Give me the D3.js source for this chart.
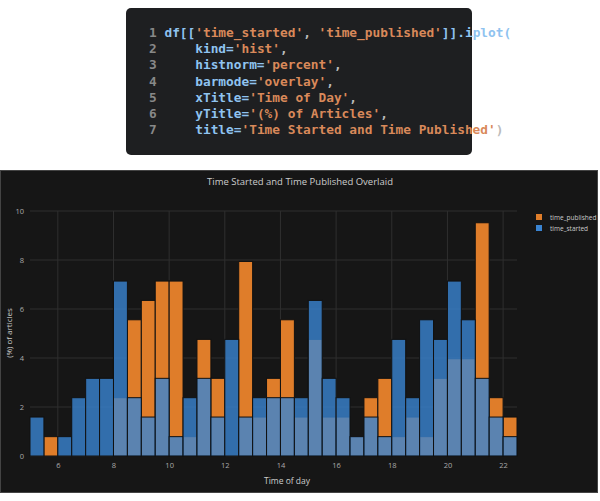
<!DOCTYPE html><html><head><meta charset="utf-8">
<script src="https://cdn.jsdelivr.net/npm/d3@7"></script>
<style>body{margin:0;background:#fff}svg{display:block}</style></head><body>
<svg id="c" width="600" height="501"></svg>
<script>
const binStarts=[5,5.5,6,6.5,7,7.5,8,8.5,9,9.5,10,10.5,11,11.5,12,12.5,13,13.5,14,14.5,15,15.5,16,16.5,17,17.5,18,18.5,19,19.5,20,20.5,21,21.5,22];
const timeStarted=[1.59,0,0.79,2.38,3.17,3.17,7.14,2.38,1.59,3.17,0.79,2.38,3.17,1.59,4.76,1.59,2.38,2.38,2.38,2.38,6.35,3.17,2.38,0.79,1.59,0.79,4.76,2.38,5.56,4.76,7.14,5.56,3.17,1.59,0.79];
const timePublished=[0,0.79,0,0,0,0,2.38,5.56,6.35,7.14,7.14,0.79,4.76,3.17,0,7.94,1.59,3.17,5.56,1.59,4.76,1.59,1.59,0.79,2.38,3.17,0.79,1.59,0.79,3.17,3.97,3.97,9.52,2.38,1.59];
const xTicks=[6,8,10,12,14,16,18,20,22];
const yTicks=[0,2,4,6,8,10];
const codeLines=[
 [["df[[","#8fc3f0"],["'time_started'","#d9895a"],[", ","#bbb"],["'time_published'","#d9895a"],["]].iplot(","#8fc3f0"]],
 [["    kind=","#8fc3f0"],["'hist'","#d9895a"],[",","#bbb"]],
 [["    histnorm=","#8fc3f0"],["'percent'","#d9895a"],[",","#bbb"]],
 [["    barmode=","#8fc3f0"],["'overlay'","#d9895a"],[",","#bbb"]],
 [["    xTitle=","#8fc3f0"],["'Time of Day'","#d9895a"],[",","#bbb"]],
 [["    yTitle=","#8fc3f0"],["'(%) of Articles'","#d9895a"],[",","#bbb"]],
 [["    title=","#8fc3f0"],["'Time Started and Time Published'","#d9895a"],[")","#bbb"]]
];
const svg=d3.select("#c");
// code block
svg.append("rect").attr("x",126).attr("y",8).attr("width",346).attr("height",147).attr("rx",5).attr("fill","#1e1f21");
codeLines.forEach((ln,i)=>{
 const t=svg.append("text").attr("x",149).attr("y",37+i*16.2).attr("font-family","DejaVu Sans Mono").attr("font-size",12.8).attr("font-weight","bold").attr("xml:space","preserve");
 t.append("tspan").attr("fill","#888").text((i+1)+" ");
 ln.forEach(([s,c])=>t.append("tspan").attr("fill",c).text(s));
});
// chart panel
svg.append("rect").attr("x",0.5).attr("y",170.5).attr("width",597).attr("height",322).attr("fill","#161616").attr("stroke","#444");
const x=d3.scaleLinear().domain([5,22.5]).range([30,517]);
const y=d3.scaleLinear().domain([0,10]).range([456,211]);
const g=svg.append("g");
g.selectAll(".gx").data(xTicks).join("line").attr("x1",d=>x(d)).attr("x2",d=>x(d)).attr("y1",211).attr("y2",456).attr("stroke","#2f2f2f");
g.selectAll(".gy").data(yTicks).join("line").attr("x1",30).attr("x2",517).attr("y1",d=>y(d)).attr("y2",d=>y(d)).attr("stroke","#2f2f2f");
const bw=x(5.5)-x(5);
g.selectAll(".p").data(binStarts).join("rect").attr("x",d=>x(d)).attr("width",bw).attr("y",(d,i)=>y(timePublished[i])).attr("height",(d,i)=>y(0)-y(timePublished[i]))
 .attr("fill","#df7d2a").attr("stroke","#111").attr("stroke-width",1);
g.selectAll(".s").data(binStarts).join("rect").attr("x",d=>x(d)).attr("width",bw).attr("y",(d,i)=>y(timeStarted[i])).attr("height",(d,i)=>y(0)-y(timeStarted[i]))
 .attr("fill","#3a84d2").attr("fill-opacity",0.8).attr("stroke","#111").attr("stroke-width",1);
const ax=svg.append("g").attr("transform","translate(0,456)").call(d3.axisBottom(x).tickValues(xTicks).tickSize(0).tickPadding(7));
ax.select(".domain").remove();
const ay=svg.append("g").attr("transform","translate(30,0)").call(d3.axisLeft(y).tickValues(yTicks).tickSize(0).tickPadding(6));
ay.select(".domain").remove();
svg.selectAll(".tick text").attr("fill","#aaa").attr("font-family","Open Sans").attr("font-size",7.5);
svg.append("text").attr("x",300).attr("y",185).attr("text-anchor","middle").attr("fill","#ccc").attr("font-family","Open Sans").attr("font-size",9.5).text("Time Started and Time Published Overlaid");
svg.append("text").attr("x",287).attr("y",484).attr("text-anchor","middle").attr("fill","#ccc").attr("font-family","Open Sans").attr("font-size",8.5).text("Time of day");
svg.append("text").attr("transform","translate(12,333) rotate(-90)").attr("text-anchor","middle").attr("fill","#ccc").attr("font-family","Open Sans").attr("font-size",8).text("(%) of articles");
const leg=[["time_published","#df7d2a"],["time_started","#3a84d2"]];
leg.forEach(([n,c],i)=>{
 svg.append("rect").attr("x",536).attr("y",214+i*11).attr("width",6).attr("height",6).attr("fill",c);
 svg.append("text").attr("x",550).attr("y",220+i*11).attr("fill","#ccc").attr("font-family","Open Sans").attr("font-size",6.5).text(n);
});
</script></body></html>
